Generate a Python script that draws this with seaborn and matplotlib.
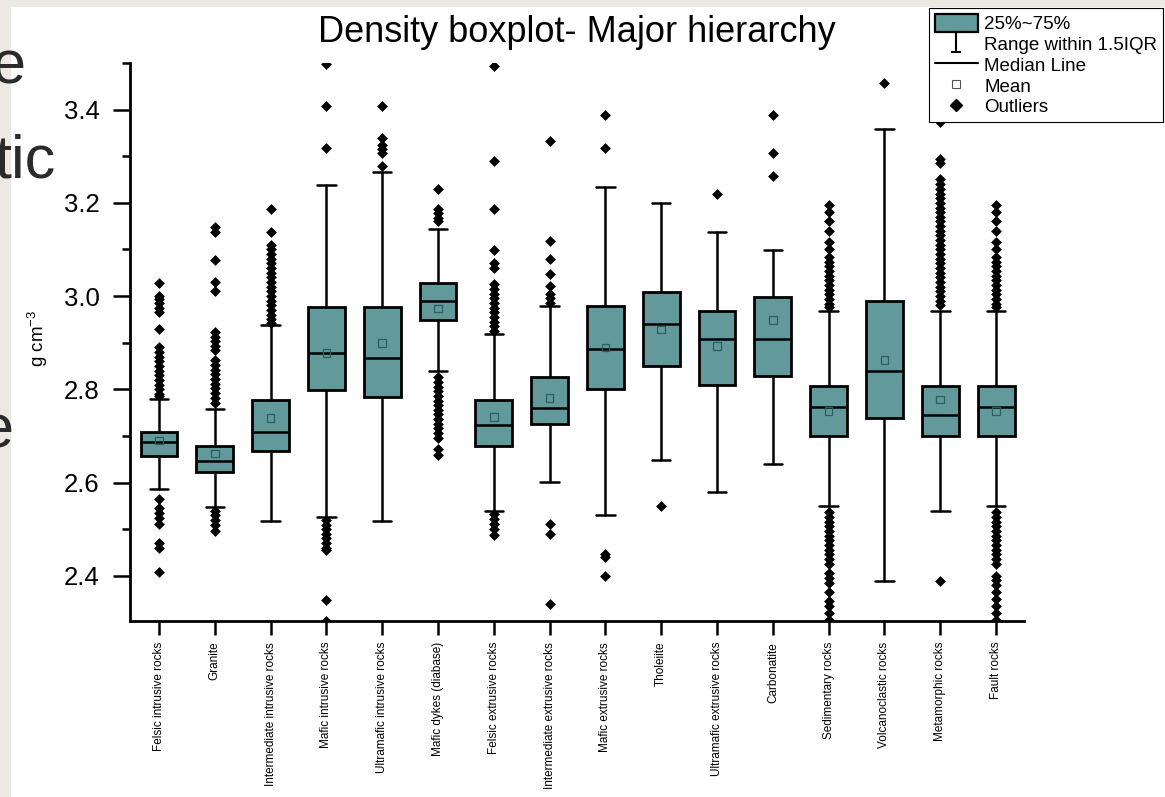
import numpy as np
import pandas as pd
import matplotlib
matplotlib.use("Agg")
import matplotlib.pyplot as plt
from matplotlib.patches import Patch, Rectangle
from matplotlib.lines import Line2D
from matplotlib.path import Path
from matplotlib.ticker import MultipleLocator, FixedLocator
import seaborn as sns

categories = [
    "Felsic intrusive rocks", "Granite", "Intermediate intrusive rocks",
    "Mafic intrusive rocks", "Ultramafic intrusive rocks", "Mafic dykes (diabase)",
    "Felsic extrusive rocks", "Intermediate extrusive rocks", "Mafic extrusive rocks",
    "Tholeiite", "Ultramafic extrusive rocks", "Carbonatite", "Sedimentary rocks",
    "Volcanoclastic rocks", "Metamorphic rocks", "Fault rocks",
]
q1 = [2.657, 2.622, 2.667, 2.798, 2.783, 2.948, 2.679, 2.725, 2.800, 2.849, 2.809, 2.828, 2.699, 2.739, 2.699, 2.699]
median = [2.688, 2.647, 2.708, 2.878, 2.868, 2.989, 2.724, 2.760, 2.887, 2.940, 2.909, 2.909, 2.761, 2.839, 2.744, 2.761]
q3 = [2.708, 2.678, 2.778, 2.977, 2.977, 3.029, 2.778, 2.827, 2.979, 3.008, 2.969, 2.999, 2.808, 2.989, 2.808, 2.808]
whisker_low = [2.587, 2.548, 2.518, 2.527, 2.518, 2.839, 2.538, 2.601, 2.530, 2.649, 2.580, 2.639, 2.550, 2.389, 2.539, 2.550]
whisker_high = [2.780, 2.758, 2.938, 3.238, 3.267, 3.143, 2.919, 2.979, 3.233, 3.199, 3.138, 3.098, 2.969, 3.358, 2.969, 2.969]
mean = [2.690, 2.662, 2.738, 2.878, 2.899, 2.973, 2.740, 2.781, 2.890, 2.928, 2.893, 2.949, 2.754, 2.863, 2.778, 2.754]

outliers = [
    [3.027, 3.000, 2.993, 2.985, 2.975, 2.965, 2.930, 2.890, 2.880, 2.870, 2.860, 2.850, 2.840, 2.830,
     2.820, 2.810, 2.800, 2.790, 2.785, 2.565, 2.545, 2.535, 2.525, 2.512, 2.470, 2.460, 2.409],
    [3.149, 3.138, 3.077, 3.031, 3.010, 2.923, 2.913, 2.903, 2.893, 2.884, 2.862, 2.852, 2.842, 2.832,
     2.822, 2.812, 2.802, 2.792, 2.782, 2.770, 2.540, 2.530, 2.520, 2.510, 2.497],
    [3.187, 3.137, 3.110, 3.100, 3.090, 3.080, 3.070, 3.060, 3.050, 3.040, 3.030, 3.020, 3.010, 3.000,
     2.990, 2.980, 2.970, 2.960, 2.950, 2.942],
    [3.497, 3.407, 3.318, 2.520, 2.510, 2.500, 2.490, 2.480, 2.470, 2.460, 2.455, 2.348, 2.302],
    [3.407, 3.339, 3.325, 3.315, 3.307, 3.278],
    [3.229, 3.187, 3.178, 3.168, 3.160, 2.826, 2.816, 2.806, 2.796, 2.786, 2.776, 2.766, 2.756, 2.746,
     2.736, 2.726, 2.716, 2.706, 2.695, 2.671, 2.660],
    [3.493, 3.289, 3.187, 3.099, 3.072, 3.060, 3.025, 3.015, 3.005, 2.995, 2.985, 2.975, 2.965, 2.955,
     2.945, 2.935, 2.925, 2.532, 2.522, 2.512, 2.500, 2.488],
    [3.333, 3.118, 3.079, 3.048, 3.021, 3.005, 2.995, 2.985, 2.511, 2.490, 2.340],
    [3.388, 3.318, 2.447, 2.440, 2.400],
    [2.549],
    [3.219],
    [3.388, 3.308, 3.258],
    [3.195, 3.180, 3.160, 3.140, 3.115, 3.100, 3.084, 3.074, 3.064, 3.054, 3.044, 3.034, 3.024, 3.014,
     3.004, 2.994, 2.984, 2.976, 2.536, 2.526, 2.516, 2.506, 2.496, 2.486, 2.476, 2.466, 2.456, 2.446,
     2.436, 2.425, 2.405, 2.395, 2.385, 2.365, 2.345, 2.335, 2.320, 2.306],
    [3.458],
    [3.374, 3.295, 3.285, 3.251, 3.240, 3.230, 3.220, 3.210, 3.200, 3.190, 3.180, 3.170, 3.160, 3.150,
     3.140, 3.130, 3.120, 3.110, 3.100, 3.090, 3.080, 3.070, 3.060, 3.050, 3.040, 3.030, 3.020, 3.010,
     3.000, 2.990, 2.981, 2.389],
    [3.195, 3.180, 3.160, 3.140, 3.115, 3.100, 3.084, 3.074, 3.064, 3.054, 3.044, 3.034, 3.024, 3.014,
     3.004, 2.994, 2.984, 2.976, 2.536, 2.526, 2.516, 2.506, 2.496, 2.486, 2.476, 2.466, 2.456, 2.446,
     2.436, 2.425, 2.400, 2.390, 2.380, 2.365, 2.350, 2.335, 2.320, 2.306],
]

title = "Density boxplot- Major hierarchy"
ylabel = "g cm$^{-3}$"
legend_labels = ["25%~75%", "Range within 1.5IQR", "Median Line", "Mean", "Outliers"]

BOX = "#62999a"
MEAN_EDGE = "#2e5e5e"

sns.set_theme(style="ticks")
plt.rcParams["font.family"] = ["Liberation Sans", "DejaVu Sans"]
plt.rcParams["mathtext.fontset"] = "custom"
plt.rcParams["mathtext.rm"] = "Liberation Sans"
plt.rcParams["mathtext.it"] = "Liberation Sans:italic"
for k in ["text.color", "axes.labelcolor", "xtick.color", "ytick.color", "axes.edgecolor"]:
    plt.rcParams[k] = "black"

W, H = 1165, 797
fig = plt.figure(figsize=(W / 100, H / 100), dpi=100, facecolor="#ECE9E2")
fig.add_artist(Rectangle((11 / W, 0), 1, 1 - 7 / H, transform=fig.transFigure,
                         facecolor="white", edgecolor="none", zorder=-10))

ax = fig.add_axes([130 / W, (H - 621) / H, (1024 - 130) / W, (621 - 63) / H])
ax.set_facecolor("none")

stats = []
for i in range(len(categories)):
    stats.append(dict(med=median[i], q1=q1[i], q3=q3[i], whislo=whisker_low[i],
                      whishi=whisker_high[i], fliers=[], mean=mean[i]))
ax.bxp(stats, positions=np.arange(len(categories)), widths=0.66, patch_artist=True,
       showfliers=False, showmeans=False, manage_ticks=False,
       boxprops=dict(facecolor=BOX, edgecolor="black", linewidth=2.0),
       whiskerprops=dict(color="black", linewidth=1.8),
       capprops=dict(color="black", linewidth=1.8),
       medianprops=dict(color="black", linewidth=1.8))

out_df = pd.DataFrame([(categories[i], v) for i in range(len(categories)) for v in outliers[i]],
                      columns=["category", "density"])
sns.stripplot(data=out_df, x="category", y="density", order=categories, jitter=False,
              marker="D", color="black", size=5.5, linewidth=0, ax=ax)

ax.scatter(np.arange(len(categories)), mean, marker="s", s=30, facecolors="none",
           edgecolors=MEAN_EDGE, linewidths=0.9, zorder=5)

ax.set_xlim(-0.52, 15.5)
ax.set_ylim(2.303, 3.5)
ax.xaxis.set_major_locator(FixedLocator(np.arange(len(categories))))
ax.set_xticklabels(categories, rotation=90, fontsize=8.5)
ax.yaxis.set_minor_locator(MultipleLocator(0.1))
ax.set_yticks([2.4, 2.6, 2.8, 3.0, 3.2, 3.4])
ax.set_yticklabels(["2.4", "2.6", "2.8", "3.0", "3.2", "3.4"])
ax.tick_params(axis="y", which="major", length=12, width=1.8, labelsize=18.5, pad=10, direction="out")
ax.tick_params(axis="y", which="minor", length=6, width=1.8, direction="out", left=True)
ax.tick_params(axis="x", which="major", length=10, width=1.8, pad=5, direction="out")
ax.tick_params(axis="x", which="minor", bottom=False)
for s in ["top", "right"]:
    ax.spines[s].set_visible(False)
for s in ["left", "bottom"]:
    ax.spines[s].set_linewidth(2.0)
    ax.spines[s].set_color("black")
ax.set_xlabel("")
ax.set_ylabel(ylabel, fontsize=13.5)
ax.yaxis.set_label_coords(-0.089, 0.507)
ax.set_title(title, fontsize=26, pad=15)

# legend
cap_path = Path([(-0.5, 1), (0.5, 1), (0, 1), (0, -1), (-0.5, -1), (0.5, -1)],
                [Path.MOVETO, Path.LINETO, Path.MOVETO, Path.LINETO, Path.MOVETO, Path.LINETO])
handles = [
    Patch(facecolor=BOX, edgecolor="black", linewidth=1.6),
    Line2D([], [], linestyle="none", marker=cap_path, markersize=15, color="black",
           markeredgewidth=1.5, markerfacecolor="none"),
    Line2D([], [], color="black", linewidth=1.5),
    Line2D([], [], linestyle="none", marker="s", markersize=6, markerfacecolor="none",
           markeredgecolor="#555555", markeredgewidth=0.8),
    Line2D([], [], linestyle="none", marker="D", markersize=6, color="black"),
]
leg = fig.legend(handles, legend_labels, loc="upper right",
                 bbox_to_anchor=(1163 / W, 1 - 8 / H), bbox_transform=fig.transFigure,
                 borderaxespad=0, fontsize=13.5, frameon=True, fancybox=False,
                 borderpad=0.3, labelspacing=0.08, handlelength=2.3, handleheight=1.1,
                 handletextpad=0.35)
leg.get_frame().set_edgecolor("black")
leg.get_frame().set_linewidth(0.8)
leg.get_frame().set_facecolor("white")
leg.get_frame().set_alpha(1)

# slide text fragments behind the chart image
for txt, xr, yb in [("e", 25, 83), ("tic", 55, 178), ("e", 13, 447)]:
    fig.text(xr / W, 1 - yb / H, txt, ha="right", va="baseline", fontsize=44,
             color="#2b2b2b")

fig.savefig("out.png", dpi=100)
